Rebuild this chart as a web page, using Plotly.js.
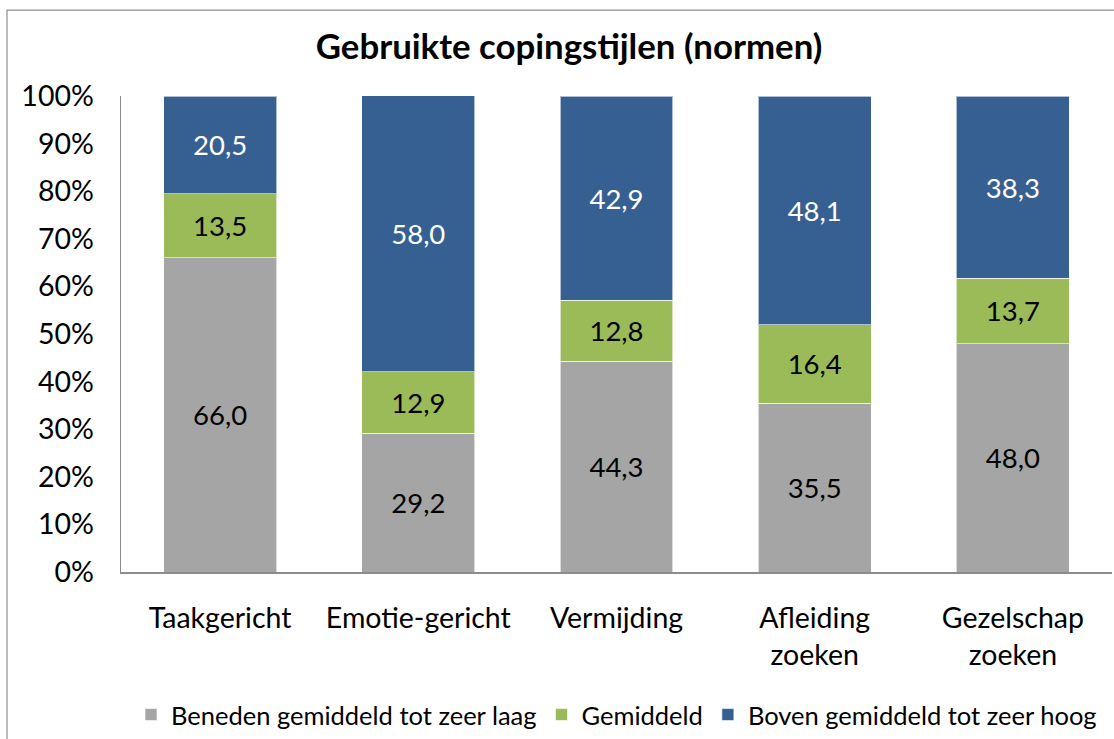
<!DOCTYPE html>
<html>
<head>
<meta charset="utf-8">
<script src="https://cdn.plot.ly/plotly-3.0.1.min.js"></script>
<style>html,body{margin:0;padding:0;background:#fff;}#chart{width:1114px;height:739px;}</style>
</head>
<body>
<div id="chart"></div>
<script>
var categories = ["Taakgericht", "Emotie-gericht", "Vermijding", "Afleiding<br>zoeken", "Gezelschap<br>zoeken"];
var seriesNames = ["Beneden gemiddeld tot zeer laag", "Gemiddeld", "Boven gemiddeld tot zeer hoog"];
var laag = [66.0, 29.2, 44.3, 35.5, 48.0];
var gemiddeld = [13.5, 12.9, 12.8, 16.4, 13.7];
var hoog = [20.5, 58.0, 42.9, 48.1, 38.3];
var yTickVals = [0, 10, 20, 30, 40, 50, 60, 70, 80, 90, 100];
var yTickText = ["0%", "10%", "20%", "30%", "40%", "50%", "60%", "70%", "80%", "90%", "100%"];
var colors = ["#A5A5A5", "#9BBB59", "#376092"];
var textColors = ["#000000", "#000000", "#FFFFFF"];

var FONT = "Lato, 'Open Sans', sans-serif";
function fmt(v){ return v.toFixed(1).replace('.', ','); }

var allSeries = [laag, gemiddeld, hoog];
var traces = allSeries.map(function(vals, i){
  return {
    type: 'bar',
    name: seriesNames[i],
    x: categories,
    y: vals,
    text: vals.map(fmt),
    textposition: 'inside',
    insidetextanchor: 'middle',
    constraintext: 'none',
    textangle: 0,
    textfont: {family: FONT, size: 27.5, color: textColors[i]},
    hoverinfo: 'none',
    marker: {color: colors[i], line: {color: 'rgba(255,255,255,0.6)', width: 1}}
  };
});

var W = 991, H = 477;
var layout = {
  width: 1114, height: 739,
  margin: {l: 121, r: 2, t: 96, b: 166},
  paper_bgcolor: '#fff', plot_bgcolor: '#fff',
  barmode: 'stack',
  bargap: 0.43,
  font: {family: FONT, color: '#000'},
  title: {text: '<b>Gebruikte copingstijlen (normen)</b>', font: {family: FONT, size: 34.8, color: '#000'},
          x: 569/1114, xref: 'container', xanchor: 'center', y: 1 - 47/739, yref: 'container', yanchor: 'middle'},
  xaxis: {
    showline: true, linecolor: '#8c8c8c', linewidth: 1.5, ticks: '', showgrid: false,
    tickfont: {family: FONT, size: 28.5, color: '#000'}, ticklabelstandoff: 20
  },
  yaxis: {
    range: [0, 100], tickvals: yTickVals, ticktext: yTickText,
    showline: true, linecolor: '#8c8c8c', linewidth: 1.5, ticks: '', showgrid: false, zeroline: false,
    tickfont: {family: FONT, size: 28.5, color: '#000'}, ticklabelstandoff: 20
  },
  showlegend: true,
  legend: {orientation: 'h', x: 0.5, xanchor: 'center', y: (573-715)/477, yanchor: 'middle',
           font: {family: FONT, size: 25.5, color: '#000'}, traceorder: 'normal', itemclick: false},
  shapes: [{type: 'rect', xref: 'paper', yref: 'paper',
            x0: (7-121)/W, x1: (1125-121)/W, y0: (573-750)/H, y1: (573-10)/H,
            line: {color: '#8f8f8f', width: 1.2}, fillcolor: 'rgba(0,0,0,0)', layer: 'below'}]
};

Plotly.newPlot('chart', traces, layout, {displayModeBar: false, staticPlot: true});
</script>
</body>
</html>
